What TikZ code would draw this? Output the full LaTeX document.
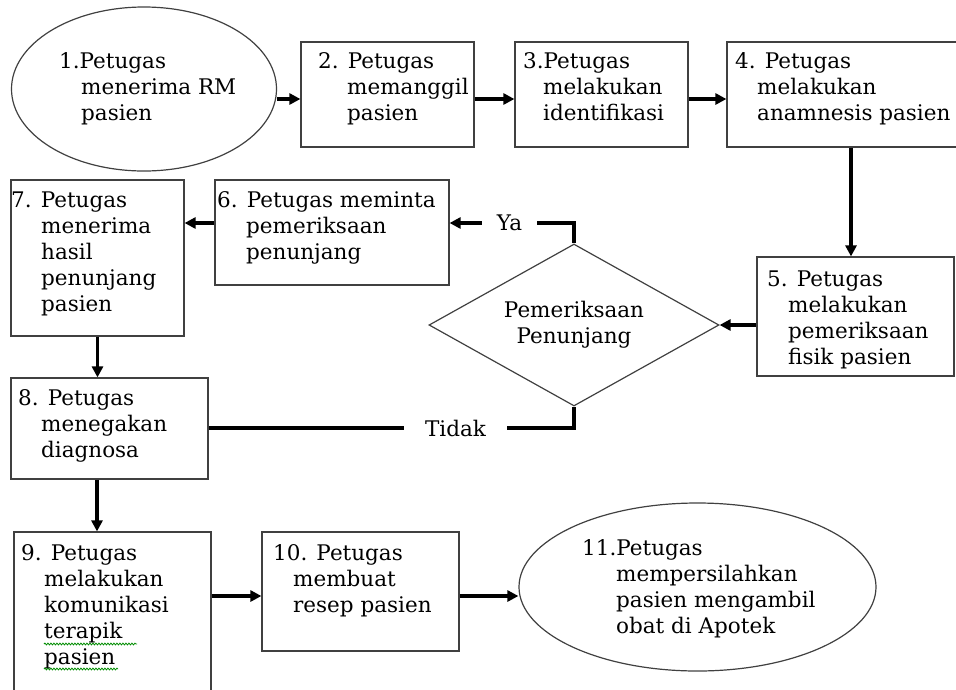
\documentclass[tikz,border=0pt]{standalone}
\usepackage{fontspec}
\setmainfont{DejaVu Serif}
\usetikzlibrary{shapes.geometric,arrows.meta,decorations.pathmorphing}
\newcommand\myind[1]{\hspace*{#1pt}}
\begin{document}
\begin{tikzpicture}[x=1pt,y=-1pt,
  outl/.style={draw=black!75, line width=1.2pt, inner sep=0pt},
  box/.style={outl, rectangle},
  oval/.style={outl, ellipse},
  dia/.style={outl, diamond},
  txt/.style={inner sep=0pt, anchor=base west, font=\fontsize{21.5}{26}\selectfont},
  lbl/.style={inner sep=0pt, font=\fontsize{21.5}{26}\selectfont},
  conn/.style={line width=3.5pt},
  arr/.style={conn, -{Triangle[length=11pt,width=11pt]}},
  wavy/.style={draw=green!55!black, line width=0.8pt, decorate, decoration={snake, amplitude=0.9pt, segment length=3pt}}
]
\useasboundingbox (0,0) rectangle (956,689);
\clip (0,0) rectangle (956,689);

% shapes
\node[oval, minimum width=265pt, minimum height=164pt] (e1) at (144,89) {};
\node[box, minimum width=173pt, minimum height=105pt] (b2) at (387.5,94.5) {};
\node[box, minimum width=173pt, minimum height=105pt] (b3) at (601.5,94.5) {};
\node[box, minimum width=248pt, minimum height=105pt] (b4) at (851,94.5) {};
\node[box, minimum width=197pt, minimum height=119pt] (b5) at (855.5,316.5) {};
\node[dia, minimum width=290pt, minimum height=162pt] (d) at (574,325) {};
\node[box, minimum width=234pt, minimum height=105pt] (b6) at (332,232.5) {};
\node[box, minimum width=173pt, minimum height=156pt] (b7) at (97.5,258) {};
\node[box, minimum width=197pt, minimum height=101pt] (b8) at (109.5,428.5) {};
\node[box, minimum width=197pt, minimum height=188pt] (b9) at (112.5,626) {};
\node[box, minimum width=197pt, minimum height=119pt] (b10) at (360.5,591.5) {};
\node[oval, minimum width=357pt, minimum height=168pt] (e11) at (697.5,587) {};

% texts
\node[txt] (t1) at (59,68) {\begin{tabular}[t]{@{}l@{}}1.Petugas\\\myind{22}menerima RM\\\myind{22}pasien\end{tabular}};
\node[txt] (t2) at (318,68) {\begin{tabular}[t]{@{}l@{}}2. Petugas\\\myind{29}memanggil\\\myind{29}pasien\end{tabular}};
\node[txt] (t3) at (523,68) {\begin{tabular}[t]{@{}l@{}}3.Petugas\\\myind{20}melakukan\\\myind{20}identifikasi\end{tabular}};
\node[txt] (t4) at (735,68) {\begin{tabular}[t]{@{}l@{}}4. Petugas\\\myind{22}melakukan\\\myind{22}anamnesis pasien\end{tabular}};
\node[txt] (t5) at (767,286) {\begin{tabular}[t]{@{}l@{}}5. Petugas\\\myind{21}melakukan\\\myind{21}pemeriksaan\\\myind{21}fisik pasien\end{tabular}};
\node[lbl, anchor=base] (td) at (574,317) {\begin{tabular}[t]{@{}c@{}}Pemeriksaan\\Penunjang\end{tabular}};
\node[txt] (t6) at (217,207) {\begin{tabular}[t]{@{}l@{}}6. Petugas meminta\\\myind{29}pemeriksaan\\\myind{29}penunjang\end{tabular}};
\node[txt] (t7) at (11,207) {\begin{tabular}[t]{@{}l@{}}7. Petugas\\\myind{30}menerima\\\myind{30}hasil\\\myind{30}penunjang\\\myind{30}pasien\end{tabular}};
\node[txt] (t8) at (18,405) {\begin{tabular}[t]{@{}l@{}}8. Petugas\\\myind{23}menegakan\\\myind{23}diagnosa\end{tabular}};
\node[txt] (t9) at (21,560) {\begin{tabular}[t]{@{}l@{}}9. Petugas\\\myind{23}melakukan\\\myind{23}komunikasi\\\myind{23}terapik\\\myind{23}pasien\end{tabular}};
\node[txt] (t10) at (273,560) {\begin{tabular}[t]{@{}l@{}}10. Petugas\\\myind{20}membuat\\\myind{20}resep pasien\end{tabular}};
\node[txt] (t11) at (582,555) {\begin{tabular}[t]{@{}l@{}}11.Petugas\\\myind{34}mempersilahkan\\\myind{34}pasien mengambil\\\myind{34}obat di Apotek\end{tabular}};

% spell-check underlines
\coordinate (w1a) at (44,644); \coordinate (w1b) at (137,644);
\coordinate (w2a) at (44,669); \coordinate (w2b) at (118,669);
\draw[wavy] (w1a) -- (w1b);
\draw[wavy] (w2a) -- (w2b);

% decision labels
\node[lbl, minimum width=55pt] (ya) at (509.5,223) {Ya};
\node[lbl, minimum width=103pt] (tidak) at (455.5,428) {Tidak};

% connectors
\coordinate (r1) at (0,99);
\coordinate (r3) at (0,596);
\coordinate (c89) at (97,0);
\draw[arr] (e1.east |- r1) -- (b2.west |- r1);
\draw[arr] (b2.east |- r1) -- (b3.west |- r1);
\draw[arr] (b3.east |- r1) -- (b4.west |- r1);
\draw[arr] (b4.south) -- (b4.south |- b5.north);
\draw[arr] (b5.west |- d.east) -- (d.east);
\draw[conn] (d.north) |- (ya.east);
\draw[arr] (ya.west) -- (b6.east |- ya.west);
\draw[arr] (b6.west |- ya.west) -- (b7.east |- ya.west);
\draw[arr] (b7.south) -- (b7.south |- b8.north);
\draw[conn] (d.south) |- (tidak.east);
\draw[conn] (tidak.west) -- (b8.east |- tidak.west);
\draw[arr] (c89 |- b8.south) -- (c89 |- b9.north);
\draw[arr] (b9.east |- r3) -- (b10.west |- r3);
\draw[arr] (b10.east |- r3) -- (e11.west |- r3);
\end{tikzpicture}
\end{document}
